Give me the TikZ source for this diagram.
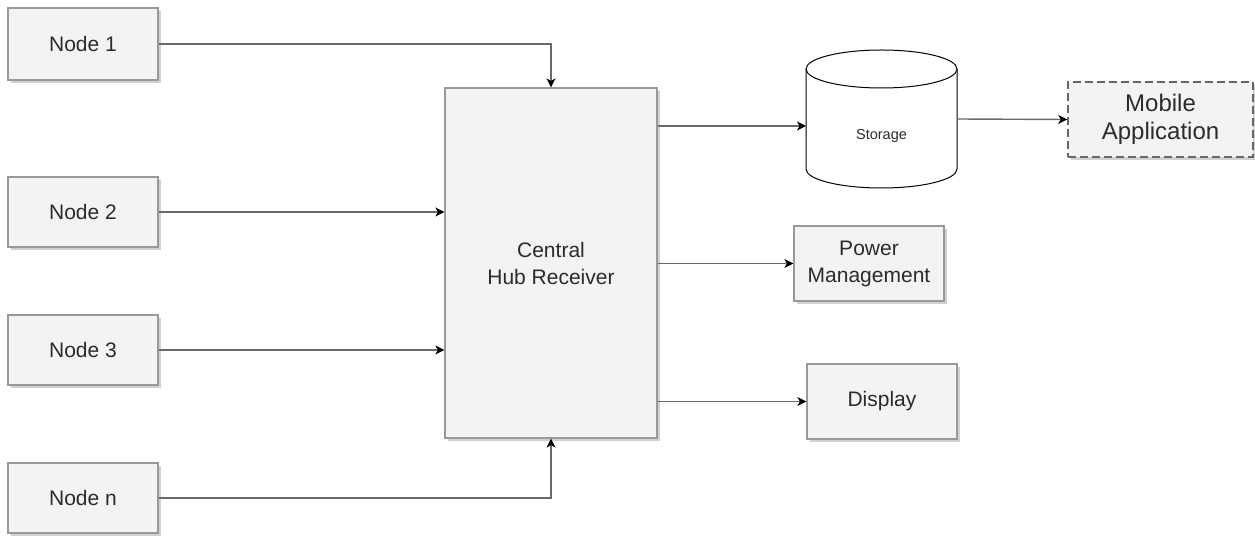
\documentclass[tikz,border=0pt]{standalone}
\usepackage{fontspec}
\setmainfont{Liberation Sans}
\usetikzlibrary{arrows.meta,shadows}
\definecolor{boxfill}{HTML}{F3F3F3}
\definecolor{boxline}{HTML}{999999}
\definecolor{linecol}{HTML}{6A6A6A}
\definecolor{textcol}{HTML}{2B2B2B}
\tikzset{
  block/.style={draw=boxline, fill=boxfill, line width=1.2pt, text=textcol,
    font=\fontsize{21}{27}\selectfont, align=center, inner sep=0pt,
    drop shadow={shadow xshift=3pt, shadow yshift=-3pt, opacity=0.3, fill=black!60}},
  arr/.style={draw=linecol, line width=1.4pt,
    -{Stealth[length=9pt,width=9pt,inset=2.5pt,color=black]}}
}
\begin{document}
\begin{tikzpicture}[x=1pt,y=-1pt]
\useasboundingbox (0,0) rectangle (1255,537);

% sensor nodes
\node[block, minimum width=150pt, minimum height=72pt] (n1) at (83,44) {Node 1};
\node[block, minimum width=150pt, minimum height=70pt] (n2) at (83,212) {Node 2};
\node[block, minimum width=150pt, minimum height=70pt] (n3) at (83,350) {Node 3};
\node[block, minimum width=150pt, minimum height=70pt] (nn) at (83,498) {Node n};

% hub
\node[block, minimum width=212pt, minimum height=350pt] (hub) at (551,263) {Central\\Hub Receiver};

% outputs
\node[block, minimum width=150pt, minimum height=75pt] (pm) at (869,263.5) {Power\\Management};
\node[block, minimum width=150pt, minimum height=75pt] (disp) at (882,401.5) {Display};
\node[block, dashed, dash pattern=on 8pt off 4pt, line width=1.5pt, draw=black!60,
  font=\fontsize{24}{28}\selectfont, minimum width=185pt, minimum height=75pt]
  (mob) at (1160.5,119.5) {Mobile\\Application};

% storage cylinder
\node[minimum width=151pt, minimum height=138pt, inner sep=0pt] (storage) at (881.5,119) {};
\draw[black, line width=1pt, fill=white]
  (806,69) -- (806,169) arc[start angle=180, end angle=0, x radius=75.5, y radius=19] -- (957,69);
\draw[black, line width=1pt, fill=white] (881.5,69) ellipse[x radius=75.5, y radius=19];
\node[text=textcol, font=\fontsize{14.5}{17}\selectfont] (storagelbl) at (881.5,136) {Storage};
\coordinate (stin) at (806,126);

% connectors
\draw[arr] (n1.east) -| (hub.north);
\draw[arr] (n2.east) -- (hub.west |- n2.east);
\draw[arr] (n3.east) -- (hub.west |- n3.east);
\draw[arr] (nn.east) -| (hub.south);
\draw[arr] (hub.east |- stin) -- (stin);
\draw[arr] (hub.east |- pm.west) -- (pm.west);
\draw[arr] (hub.east |- disp.west) -- (disp.west);
\draw[arr] (storage.east) -- (mob.west);
\end{tikzpicture}
\end{document}
